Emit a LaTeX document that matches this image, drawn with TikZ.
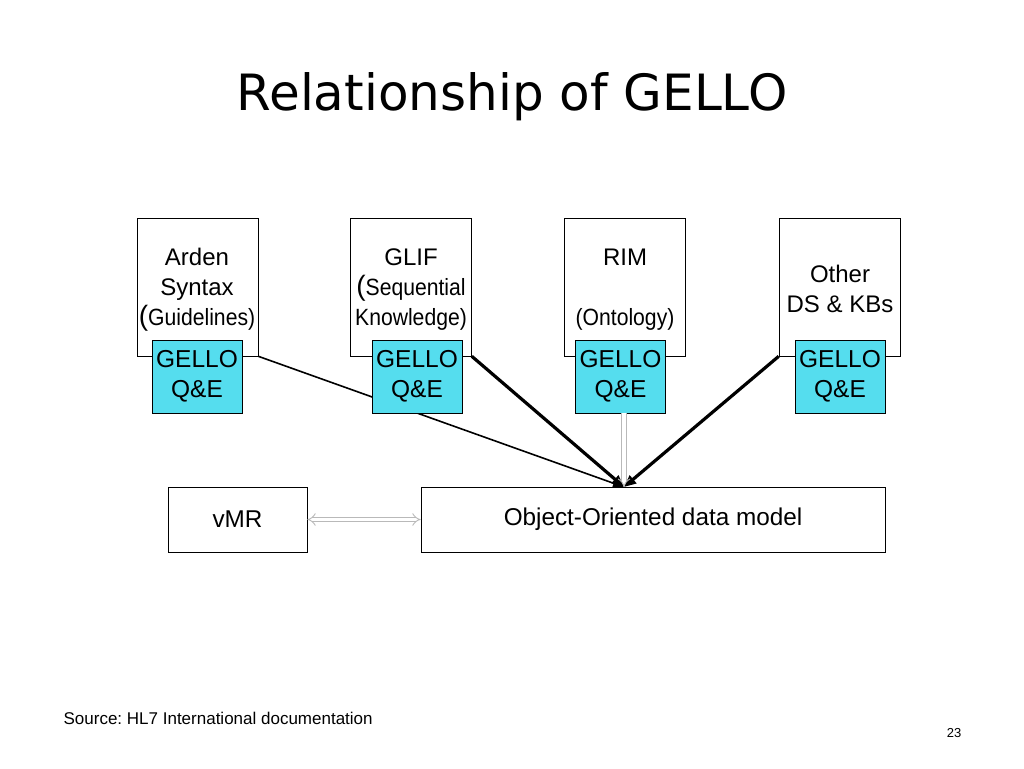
\documentclass[tikz,border=0pt]{standalone}
\usepackage{fontspec}
\setmainfont{Liberation Sans}
\newfontfamily\titlefont{DejaVu Sans}
\newfontfamily\narrowfont[FakeStretch=0.9]{Liberation Sans}
\usetikzlibrary{positioning,arrows.meta}
\definecolor{gellocyan}{RGB}{85,221,238}
\newcommand{\smalltxt}{\narrowfont\fontsize{23.5}{30}\selectfont}
\newcommand{\bigparen}{{\fontsize{28}{30}\selectfont(}}
\frenchspacing

\begin{document}
\begin{tikzpicture}[x=1pt,y=-1pt,
    semithick,
    source/.style={rectangle,draw,fill=white,inner sep=0pt,
      minimum width=121pt,minimum height=138pt},
    srctext/.style={align=center,inner sep=0pt,
      font=\fontsize{24}{30}\selectfont},
    gello/.style={rectangle,draw,fill=gellocyan,inner sep=0pt,
      minimum width=90pt,minimum height=73pt,align=center,
      font=\fontsize{24.5}{30}\selectfont},
    model/.style={rectangle,draw,fill=white,inner sep=0pt,
      minimum height=65pt,font=\fontsize{24.3}{28}\selectfont},
    thin/.style={line width=1.6pt,-{Triangle[length=11pt,width=8pt]}},
    thick/.style={line width=3.2pt,-{Triangle[length=12pt,width=10pt]}},
    dbl/.style={draw=gray!55,line width=0.9pt,double=white,
      double distance=3.5pt,-{Implies}}
    ]

\useasboundingbox (0,0) rectangle (1024,768);

\node[font=\titlefont\fontsize{50}{60}\selectfont] (title) at (512,97) {Relationship of GELLO};

\node[source] (arden) at (197.5,287) {};
\node[source] (glif) at (411,287) {};
\node[source] (rim) at (625,287) {};
\node[source] (other) at (839.5,287) {};

\node[srctext] (ardenTxt) at (197,290) {Arden\\Syntax\\\bigparen{\smalltxt Guidelines)}};
\node[srctext] (glifTxt) at (411,290) {GLIF\\\bigparen{\smalltxt Sequential}\\{\smalltxt Knowledge)}};
\node[srctext] (rimTxt) at (625,290) {RIM\\ \\{\smalltxt (Ontology)}};
\node[srctext] (otherTxt) at (840,289) {Other\\DS \& KBs};

\node[model,minimum width=139pt] (vmr) at (237.5,519.5) {vMR};
\node[model,minimum width=464pt] (oom) at (653,519.5) {Object-Oriented data model};
\coordinate (hub) at (624,487);

\draw[thin] (arden.south east) -- (hub);
\draw[thick] (glif.south east) -- (hub);
\draw[thick] (other.south west) -- (hub);

\node[gello] (ardenG) at (197,376.5) {GELLO\\Q\&E};
\node[gello] (glifG) at (417,376.5) {GELLO\\Q\&E};
\node[gello] (rimG) at (620.5,376.5) {GELLO\\Q\&E};
\node[gello] (otherG) at (840,376.5) {GELLO\\Q\&E};

\draw[dbl] (rimG.south -| hub) -- (hub);
\draw[dbl,{Implies}-{Implies}] (vmr) -- (oom);

\node[anchor=west,font=\fontsize{17}{20}\selectfont] (src) at (60,718) {Source: HL7 International documentation};
\node[font=\fontsize{13}{15}\selectfont] (page) at (954,733) {23};
\end{tikzpicture}
\end{document}
